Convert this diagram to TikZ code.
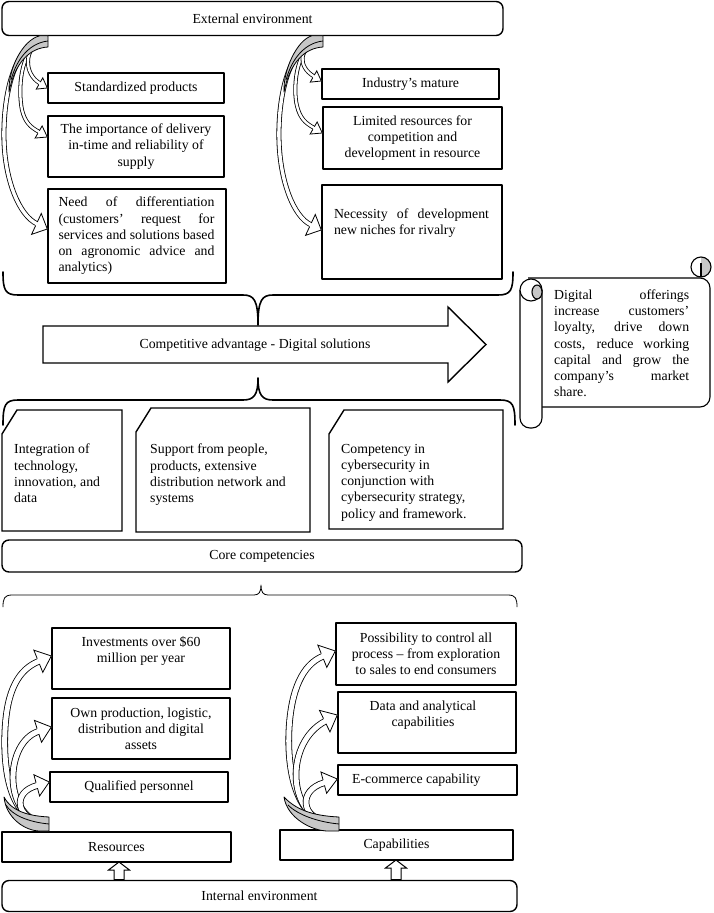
\documentclass[tikz,border=0pt]{standalone}
\usepackage{fontspec}
\setmainfont{Liberation Serif}
\usetikzlibrary{calc}
\tolerance=10000
\hbadness=10000
\newcommand\dfont{\fontsize{13.8}{16.2}\selectfont}
\tikzset{
  txt/.style={font=\dfont, inner sep=0pt, align=center},
  box/.style={draw, line width=1.4pt, fill=white, inner sep=0pt, font=\dfont, align=center},
  rbox/.style={box, rounded corners=7pt},
  hidden/.style={inner sep=0pt, outer sep=0pt},
  brc/.style={line width=1.6pt, line cap=round},
  cband/.style={line width=0.8pt, double=white, double distance=#1},
  gtail/.style={fill=black!22, draw, line width=0.8pt},
  scr/.style={line width=1.1pt, fill=white},
  pics/bhead/.style n args={3}{code={
     \fill[white] (0.3,0) -- (-#1,#2) -- (-#1,-#2) -- cycle;
     \draw[line width=0.8pt, line join=miter] (-#1,#3) -- (-#1,#2) -- (0,0) -- (-#1,-#2) -- (-#1,-#3);}}
}
\begin{document}
\begin{tikzpicture}[x=1pt,y=-1pt,line join=round]
\useasboundingbox (0,0) rectangle (713,913);
\fill[white] (0,0) rectangle (713,913);

% ---------- top part ----------
\node[rbox, minimum width=501pt, minimum height=34pt] (ext) at (252.5,18.5) {External environment};

\node[box, minimum width=176pt, minimum height=30pt] (std) at (136,88) {Standardized products};
\node[box, minimum width=176pt, minimum height=61pt] (imp) at (136,146.5) {The importance of delivery\\in-time and reliability of\\supply};
\node[box, minimum width=178pt, minimum height=94pt] (need) at (137,236) {};
\node[txt, text width=156pt, align=justify] (needt) at (136.5,236) {Need of differentiation\linebreak (customers’ request for\linebreak services and solutions based\linebreak on agronomic advice and\linebreak analytics)};

\node[box, minimum width=177pt, minimum height=30pt] (ind) at (410.5,84) {Industry’s mature};
\node[box, minimum width=179pt, minimum height=62pt] (lim) at (412.5,138) {Limited resources for\\competition and\\development in resource};
\node[box, minimum width=180pt, minimum height=94pt] (nec) at (412,232) {};
\node[txt, text width=155pt, align=justify] (nect) at (411.5,223) {Necessity of development\linebreak new niches for rivalry};

% top-left curved arrows
\draw[cband=3.4pt] (40,40) .. controls (12,50) and (3,100) .. (4,140) .. controls (5,180) and (19,215.5) .. (37.1,223.9);
\pic[rotate=-25] at ($(need.west)+(0,-7)$) {bhead={12}{11.5}{2.1}};
\draw[cband=2.4pt] (40,42) .. controls (20,52) and (18,90) .. (22,110) .. controls (25,122) and (30,127) .. (39.3,132);
\pic[rotate=-30] at ($(imp.west)+(0,-9.5)$) {bhead={10}{7}{1.6}};
\draw[cband=2.4pt] (40,42) .. controls (25,48) and (22.9,73.5) .. (40.2,83.5);
\pic[rotate=-30] at (std.west) {bhead={9}{6.5}{1.6}};
\draw[gtail] (48,35.7) -- (48,47) .. controls (30,48) and (15,62) .. (9,92) .. controls (8,70) and (22,40) .. (40,35.7) -- cycle;
\draw[line width=0.8pt] (48,41) .. controls (30,43) and (17,58) .. (11,80);

% top-right curved arrows
\draw[cband=3.4pt] (315,40) .. controls (287,50) and (278,100) .. (279,140) .. controls (280,180) and (293,216.5) .. (311.1,224.9);
\pic[rotate=-25] at ($(nec.west)+(0,-2)$) {bhead={12}{11.5}{2.1}};
\draw[cband=2.4pt] (315,42) .. controls (295,52) and (293,90) .. (297,106) .. controls (300,118) and (305,123) .. (314.3,128);
\pic[rotate=-30] at ($(lim.west)+(0,-5)$) {bhead={10}{7}{1.6}};
\draw[cband=2.4pt] (315,42) .. controls (300,48) and (296.9,66.5) .. (314.2,76.5);
\pic[rotate=-30] at ($(ind.west)+(0,-3)$) {bhead={9}{6.5}{1.6}};
\draw[gtail] (323,35.7) -- (323,47) .. controls (305,48) and (290,62) .. (284,92) .. controls (283,70) and (297,40) .. (312,35.7) -- cycle;
\draw[line width=0.8pt] (323,41) .. controls (305,43) and (292,58) .. (286,80);

% top brace
\draw[brc] (3,272) .. controls (3,290) and (5,295) .. (18,295) -- (243,295) .. controls (254,295) and (258,300) .. (258,325) .. controls (258,300) and (262,295) .. (273,295) -- (498,295) .. controls (511,295) and (513,290) .. (513,272);

% competitive advantage arrow
\draw[line width=1.4pt, fill=white, line join=miter] (43,326) -- (448,326) -- (448,307) -- (486,344.5) -- (448,382) -- (448,363) -- (43,363) -- cycle;
\node[txt] (compt) at (255,345) {Competitive advantage - Digital solutions};

% second brace
\draw[brc] (3,425) .. controls (3,405) and (5,400) .. (18,400) -- (243,400) .. controls (254,400) and (258,395) .. (258,378) .. controls (258,395) and (262,400) .. (273,400) -- (500,400) .. controls (513,400) and (515,405) .. (515,425);

% scroll
\draw[scr, rounded corners=10pt] (528,278) -- (710,278) -- (710,407) -- (528,407);
\begin{scope}
  \clip (701,267) circle (10pt);
  \fill[white] (690,256) rectangle (712,278);
  \fill[black!22] (701,255) rectangle (712,279);
\end{scope}
\draw[line width=1.1pt] (701,267) circle (10pt);
\draw[line width=1.1pt] (701,277) -- (701,263);
\draw[scr, rounded corners=10pt] (520,290) -- (520,428) -- (542,428) -- (542,290);
\draw[scr] (531,290) circle (11pt);
\draw[line width=1.1pt, fill=black!22] (537,292) ellipse (5pt and 7pt);
\node[txt, text width=135pt, align=justify, anchor=north west] (scrt) at (554,289.5) {Digital offerings\linebreak increase customers’\linebreak loyalty, drive down\linebreak costs, reduce working\linebreak capital and grow the\linebreak company’s market\linebreak share.};

% core competency boxes
\node[hidden, minimum width=120pt, minimum height=121pt] (c1) at (62,470.5) {};
\node[hidden, minimum width=174pt, minimum height=124pt] (c2) at (223,470) {};
\node[hidden, minimum width=174pt, minimum height=119pt] (c3) at (416,469.5) {};
\foreach \c in {c1,c2,c3}{
  \draw[line width=1.4pt, fill=white, line join=miter] ($(\c.north west)+(0,24)$) -- ($(\c.north west)+(15,0)$) -- (\c.north east) -- (\c.south east) -- (\c.south west) -- cycle;
}
\node[txt, align=left, anchor=north west] (c1t) at (14,444) {Integration of\\technology,\\innovation, and\\data};
\node[txt, align=left, anchor=north west] (c2t) at (150,444) {Support from people,\\products, extensive\\distribution network and\\systems};
\node[txt, align=left, anchor=north west] (c3t) at (341,444) {Competency in\\cybersecurity in\\conjunction with\\cybersecurity strategy,\\policy and framework.};

\node[rbox, minimum width=520pt, minimum height=32pt] (core) at (262,556) {Core competencies};

% thin brace
\draw[line width=0.8pt] (3,607) .. controls (3,599) and (4,595) .. (12,595) -- (254,595) .. controls (259,595) and (261,592) .. (261,585) .. controls (261,592) and (263,595) .. (268,595) -- (508,595) .. controls (516,595) and (517,599) .. (517,607);

% ---------- bottom part ----------
\node[box, minimum width=178pt, minimum height=61pt] (inv) at (141,658.5) {};
\node[txt] (invt) at (141,651) {Investments over \$60\\million per year};
\node[box, minimum width=178pt, minimum height=61pt] (own) at (141,728.5) {Own production, logistic,\\distribution and digital\\assets};
\node[box, minimum width=178pt, minimum height=30pt] (qual) at (139,787) {Qualified personnel};

\node[box, minimum width=180pt, minimum height=62pt] (poss) at (426,654) {Possibility to control all\\process – from exploration\\to sales to end consumers};
\node[box, minimum width=178pt, minimum height=61pt] (data) at (427,722.5) {};
\node[txt] (datat) at (423,715) {Data and analytical\\capabilities};
\node[box, minimum width=179pt, minimum height=30pt] (ecom) at (427.5,780) {};
\node[txt, anchor=west] (ecomt) at (352,780) {E-commerce capability};

\node[box, minimum width=229pt, minimum height=30pt] (res) at (116.5,847) {Resources};
\node[box, minimum width=233pt, minimum height=30pt] (cap) at (396.5,845) {Capabilities};
\node[rbox, minimum width=515pt, minimum height=31pt] (intenv) at (259.5,896) {Internal environment};

% bottom-left curved arrows
\draw[cband=5pt] (44,824) .. controls (10,818) and (3,770) .. (5,730) .. controls (7,690) and (18.6,669.4) .. (39,661.2);
\pic[rotate=22] at ($(inv.west)+(0,-2.5)$) {bhead={14}{12}{2.9}};
\draw[cband=5pt] (44,824) .. controls (2,815) and (5,742) .. (38.7,731.3);
\pic[rotate=18] at ($(own.west)+(0,-1.5)$) {bhead={14}{11.5}{2.9}};
\draw[cband=5pt] (44,824) .. controls (15,818) and (12,792) .. (37.4,785.4);
\pic[rotate=15] at ($(qual.west)+(0,-5)$) {bhead={13}{11}{2.9}};
\draw[gtail] (49,831) -- (49,817) .. controls (30,816) and (12,812) .. (4,797) .. controls (6,818) and (25,831) .. (40,831) -- cycle;
\draw[line width=0.8pt] (49,824) .. controls (28,822) and (12,815) .. (6,805);

% bottom-right curved arrows
\draw[cband=5pt] (330,824) .. controls (296,818) and (287,770) .. (289,730) .. controls (291,690) and (302.6,664.4) .. (323,656.2);
\pic[rotate=22] at ($(poss.west)+(0,-3)$) {bhead={14}{12}{2.9}};
\draw[cband=5pt] (330,824) .. controls (286,815) and (285,742) .. (325.4,721.1);
\pic[rotate=26] at ($(data.west)+(0,-7.5)$) {bhead={14}{12}{2.9}};
\draw[cband=5pt] (330,824) .. controls (300,818) and (298,790) .. (324.5,782.6);
\pic[rotate=15] at ($(ecom.west)+(0,-1)$) {bhead={14}{11}{2.9}};
\draw[gtail] (339,831) -- (339,817) .. controls (318,816) and (298,812) .. (284,797) .. controls (287,818) and (312,831) .. (328,831) -- cycle;
\draw[line width=0.8pt] (339,824) .. controls (318,822) and (298,815) .. (288,805);

% small up arrows
\draw[line width=1pt, fill=white, line join=miter] (114,879.5) -- (114,870) -- (108.5,870) -- (119,862) -- (129.5,870) -- (124,870) -- (124,879.5) -- cycle;
\draw[line width=1pt, fill=white, line join=miter] (391,879.5) -- (391,868) -- (385.5,868) -- (396,860) -- (406.5,868) -- (401,868) -- (401,879.5) -- cycle;
\end{tikzpicture}
\end{document}
